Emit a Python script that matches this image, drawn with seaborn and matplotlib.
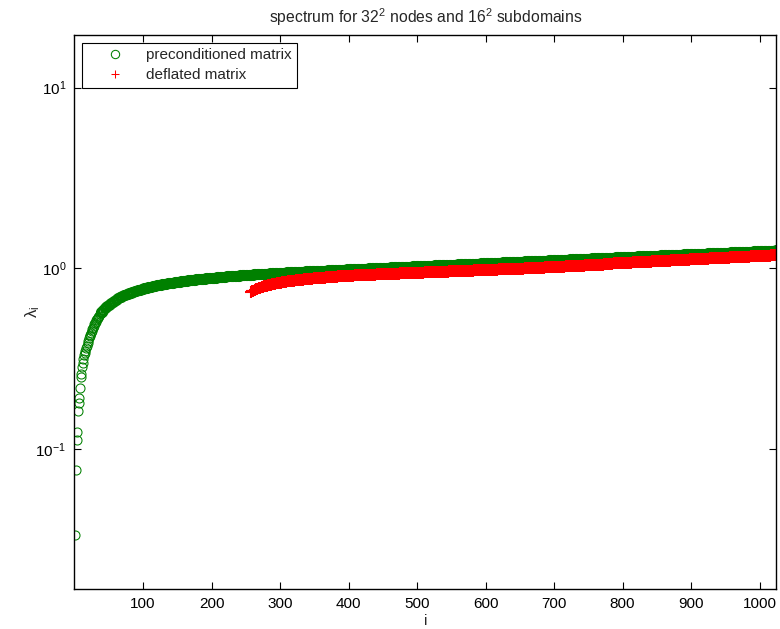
import matplotlib
matplotlib.use('Agg')
import matplotlib.pyplot as plt
import seaborn as sns
from matplotlib.ticker import NullLocator

# eigenvalues: first 40 one by one, then every 2nd index
pre_idx = list(range(1, 41)) + list(range(42, 1025, 2))
pre_vals = [
    0.0334, 0.0765, 0.112, 0.125, 0.162, 0.179, 0.191, 0.218, 0.251, 0.260,
    0.285, 0.298, 0.315, 0.330, 0.340, 0.350, 0.362, 0.372, 0.385, 0.398,
    0.410, 0.420, 0.430, 0.440, 0.450, 0.460, 0.470, 0.480, 0.490, 0.500,
    0.508, 0.516, 0.524, 0.532, 0.540, 0.548, 0.556, 0.563, 0.570, 0.577,
    # 42 .. 256
    0.589, 0.600, 0.610, 0.620, 0.629, 0.638, 0.646, 0.654, 0.662, 0.669,
    0.676, 0.683, 0.690, 0.696, 0.702, 0.708, 0.714, 0.719, 0.724, 0.729,
    0.734, 0.738, 0.743, 0.747, 0.751, 0.755, 0.759, 0.763, 0.767, 0.771,
    0.775, 0.778, 0.782, 0.785, 0.789, 0.792, 0.795, 0.798, 0.801, 0.804,
    0.807, 0.810, 0.813, 0.815, 0.818, 0.820, 0.823, 0.825, 0.828, 0.830,
    0.833, 0.835, 0.837, 0.839, 0.841, 0.843, 0.845, 0.847, 0.849, 0.851,
    0.853, 0.855, 0.857, 0.859, 0.861, 0.863, 0.865, 0.866, 0.868, 0.870,
    0.872, 0.873, 0.875, 0.876, 0.878, 0.879, 0.881, 0.882, 0.884, 0.885,
    0.887, 0.888, 0.890, 0.891, 0.893, 0.894, 0.896, 0.897, 0.899, 0.900,
    0.902, 0.903, 0.904, 0.905, 0.907, 0.908, 0.909, 0.910, 0.912, 0.913,
    0.914, 0.915, 0.917, 0.918, 0.919, 0.920, 0.921, 0.922,
    # 258 .. 400
    0.9230, 0.9240, 0.9250, 0.9260, 0.9270, 0.9280, 0.9290, 0.9300, 0.9310, 0.9320,
    0.9330, 0.9340, 0.9350, 0.9360, 0.9370, 0.9380, 0.9390, 0.9400, 0.9410, 0.9420,
    0.9430, 0.9440, 0.9450, 0.9460, 0.9470, 0.9480, 0.9490, 0.9500, 0.9505, 0.9510,
    0.9520, 0.9530, 0.9540, 0.9550, 0.9560, 0.9570, 0.9575, 0.9580, 0.9590, 0.9600,
    0.9610, 0.9620, 0.9625, 0.9630, 0.9640, 0.9650, 0.9660, 0.9670, 0.9675, 0.9680,
    0.9690, 0.9700, 0.9710, 0.9720, 0.9725, 0.9730, 0.9740, 0.9750, 0.9760, 0.9770,
    0.9775, 0.9780, 0.9790, 0.9800, 0.9810, 0.9820, 0.9825, 0.9830, 0.9840, 0.9850,
    0.9860, 0.9870,
    # 402 .. 500
    0.9878, 0.9886, 0.9894, 0.9902, 0.9910, 0.9918, 0.9926, 0.9934, 0.9942, 0.9950,
    0.9958, 0.9966, 0.9974, 0.9982, 0.9990, 0.9998, 1.0006, 1.0014, 1.0022, 1.0030,
    1.0038, 1.0046, 1.0054, 1.0062, 1.0070, 1.0078, 1.0086, 1.0094, 1.0102, 1.0110,
    1.0118, 1.0126, 1.0134, 1.0142, 1.0150, 1.0158, 1.0166, 1.0174, 1.0182, 1.0190,
    1.0198, 1.0206, 1.0214, 1.0222, 1.0230, 1.0238, 1.0246, 1.0254, 1.0262, 1.0270,
    # 502 .. 600
    1.0278, 1.0286, 1.0294, 1.0302, 1.0310, 1.0318, 1.0326, 1.0334, 1.0342, 1.0350,
    1.0358, 1.0366, 1.0374, 1.0382, 1.0390, 1.0398, 1.0406, 1.0414, 1.0422, 1.0430,
    1.0438, 1.0446, 1.0454, 1.0462, 1.0470, 1.0478, 1.0486, 1.0494, 1.0502, 1.0510,
    1.0518, 1.0526, 1.0534, 1.0542, 1.0550, 1.0558, 1.0566, 1.0574, 1.0582, 1.0590,
    1.0598, 1.0606, 1.0614, 1.0622, 1.0630, 1.0638, 1.0646, 1.0654, 1.0662, 1.0670,
    # 602 .. 700
    1.0678, 1.0687, 1.0695, 1.0704, 1.0712, 1.0721, 1.0729, 1.0738, 1.0746, 1.0755,
    1.0763, 1.0772, 1.0780, 1.0789, 1.0797, 1.0806, 1.0814, 1.0823, 1.0831, 1.0840,
    1.0848, 1.0857, 1.0865, 1.0874, 1.0882, 1.0891, 1.0899, 1.0908, 1.0916, 1.0925,
    1.0933, 1.0942, 1.0950, 1.0959, 1.0967, 1.0976, 1.0984, 1.0993, 1.1001, 1.1010,
    1.1018, 1.1027, 1.1035, 1.1044, 1.1052, 1.1061, 1.1069, 1.1078, 1.1086, 1.1095,
    # 702 .. 800
    1.1104, 1.1113, 1.1121, 1.1130, 1.1139, 1.1148, 1.1156, 1.1165, 1.1174, 1.1183,
    1.1191, 1.1200, 1.1209, 1.1218, 1.1226, 1.1235, 1.1244, 1.1253, 1.1261, 1.1270,
    1.1279, 1.1288, 1.1296, 1.1305, 1.1314, 1.1323, 1.1331, 1.1340, 1.1349, 1.1358,
    1.1366, 1.1375, 1.1384, 1.1393, 1.1401, 1.1410, 1.1419, 1.1428, 1.1436, 1.1445,
    1.1454, 1.1463, 1.1471, 1.1480, 1.1489, 1.1498, 1.1506, 1.1515, 1.1524, 1.1533,
    # 802 .. 900
    1.1542, 1.1551, 1.1560, 1.1569, 1.1578, 1.1587, 1.1596, 1.1605, 1.1614, 1.1623,
    1.1632, 1.1641, 1.1650, 1.1659, 1.1668, 1.1677, 1.1686, 1.1695, 1.1704, 1.1713,
    1.1722, 1.1731, 1.1740, 1.1749, 1.1758, 1.1767, 1.1776, 1.1785, 1.1794, 1.1803,
    1.1812, 1.1821, 1.1830, 1.1839, 1.1848, 1.1857, 1.1866, 1.1875, 1.1884, 1.1893,
    1.1902, 1.1911, 1.1920, 1.1929, 1.1938, 1.1947, 1.1956, 1.1965, 1.1974, 1.1983,
    # 902 .. 1000
    1.1992, 1.2001, 1.2010, 1.2019, 1.2028, 1.2037, 1.2046, 1.2055, 1.2064, 1.2073,
    1.2082, 1.2091, 1.2100, 1.2109, 1.2118, 1.2127, 1.2136, 1.2145, 1.2154, 1.2163,
    1.2172, 1.2181, 1.2190, 1.2199, 1.2208, 1.2217, 1.2226, 1.2235, 1.2244, 1.2253,
    1.2262, 1.2271, 1.2280, 1.2289, 1.2298, 1.2307, 1.2316, 1.2325, 1.2334, 1.2343,
    1.2352, 1.2361, 1.2370, 1.2379, 1.2388, 1.2397, 1.2406, 1.2415, 1.2424, 1.2433,
    # 1002 .. 1024
    1.2442, 1.2451, 1.2460, 1.2469, 1.2478, 1.2487, 1.2496, 1.2505, 1.2514, 1.2523,
    1.2540, 1.2600,
]

# deflated matrix: first 256 eigenvalues removed, every 2nd index
defl_idx = list(range(257, 1024, 2))
defl_vals = [
    # 257 .. 415
    0.742, 0.746, 0.752, 0.759, 0.765, 0.771, 0.776, 0.781, 0.786, 0.791,
    0.795, 0.799, 0.803, 0.807, 0.810, 0.814, 0.817, 0.820, 0.823, 0.826,
    0.829, 0.832, 0.834, 0.837, 0.839, 0.842, 0.844, 0.846, 0.848, 0.850,
    0.852, 0.854, 0.856, 0.858, 0.860, 0.862, 0.863, 0.865, 0.867, 0.869,
    0.870, 0.872, 0.873, 0.875, 0.876, 0.878, 0.879, 0.881, 0.882, 0.884,
    0.885, 0.886, 0.887, 0.889, 0.890, 0.891, 0.892, 0.894, 0.895, 0.896,
    0.897, 0.899, 0.900, 0.901, 0.902, 0.903, 0.904, 0.905, 0.906, 0.907,
    0.908, 0.909, 0.910, 0.911, 0.912, 0.913, 0.914, 0.915, 0.916, 0.9165,
    # 417 .. 665
    0.9170, 0.9177, 0.9184, 0.9190, 0.9197, 0.9204, 0.9211, 0.9218, 0.9224, 0.9231,
    0.9238, 0.9245, 0.9252, 0.9258, 0.9265, 0.9272, 0.9279, 0.9286, 0.9292, 0.9299,
    0.9306, 0.9313, 0.9320, 0.9326, 0.9333, 0.9340, 0.9347, 0.9354, 0.9360, 0.9367,
    0.9374, 0.9381, 0.9388, 0.9394, 0.9401, 0.9408, 0.9415, 0.9422, 0.9428, 0.9435,
    0.9442, 0.9449, 0.9456, 0.9462, 0.9469, 0.9476, 0.9483, 0.9490, 0.9496, 0.9503,
    0.9510, 0.9517, 0.9524, 0.9530, 0.9537, 0.9544, 0.9551, 0.9558, 0.9564, 0.9571,
    0.9578, 0.9585, 0.9592, 0.9598, 0.9605, 0.9612, 0.9619, 0.9626, 0.9632, 0.9639,
    0.9646, 0.9653, 0.9660, 0.9666, 0.9673, 0.9680, 0.9687, 0.9694, 0.9700, 0.9707,
    0.9714, 0.9721, 0.9728, 0.9734, 0.9741, 0.9748, 0.9755, 0.9762, 0.9768, 0.9775,
    0.9782, 0.9789, 0.9796, 0.9802, 0.9809, 0.9816, 0.9823, 0.9830, 0.9836, 0.9843,
    0.9850, 0.9857, 0.9864, 0.9870, 0.9877, 0.9884, 0.9891, 0.9898, 0.9904, 0.9911,
    0.9918, 0.9925, 0.9932, 0.9938, 0.9945, 0.9952, 0.9959, 0.9966, 0.9972, 0.9979,
    0.9986, 0.9993, 1.0000, 1.0006, 1.0013,
    # 667 .. 775
    1.0022, 1.0031, 1.0040, 1.0049, 1.0058, 1.0067, 1.0076, 1.0085, 1.0094, 1.0103,
    1.0112, 1.0121, 1.0130, 1.0139, 1.0148, 1.0157, 1.0166, 1.0175, 1.0184, 1.0193,
    1.0202, 1.0211, 1.0220, 1.0229, 1.0238, 1.0247, 1.0256, 1.0265, 1.0274, 1.0283,
    1.0292, 1.0301, 1.0310, 1.0319, 1.0328, 1.0337, 1.0346, 1.0355, 1.0364, 1.0373,
    1.0382, 1.0391, 1.0400, 1.0409, 1.0418, 1.0427, 1.0436, 1.0445, 1.0454, 1.0463,
    1.0472, 1.0481, 1.0490, 1.0510, 1.0540,
    # 777 .. 1023
    1.0560, 1.0580, 1.0600, 1.0615, 1.0630, 1.0640, 1.0650, 1.0660, 1.0670, 1.0680,
    1.0690, 1.0700, 1.0710, 1.0720, 1.0730, 1.0740, 1.0750, 1.0760, 1.0770, 1.0780,
    1.0790, 1.0800, 1.0810, 1.0820, 1.0830, 1.0840, 1.0850, 1.0860, 1.0870, 1.0880,
    1.0890, 1.0900, 1.0910, 1.0920, 1.0930, 1.0940, 1.0950, 1.0960, 1.0970, 1.0980,
    1.0990, 1.1000, 1.1010, 1.1020, 1.1030, 1.1040, 1.1050, 1.1060, 1.1070, 1.1080,
    1.1090, 1.1100, 1.1110, 1.1120, 1.1130, 1.1140, 1.1150, 1.1160, 1.1170, 1.1180,
    1.1190, 1.1200, 1.1210, 1.1220, 1.1230, 1.1240, 1.1250, 1.1260, 1.1270, 1.1280,
    1.1290, 1.1300, 1.1310, 1.1320, 1.1330, 1.1340, 1.1350, 1.1360, 1.1370, 1.1380,
    1.1390, 1.1400, 1.1410, 1.1420, 1.1430, 1.1440, 1.1450, 1.1460, 1.1470, 1.1480,
    1.1490, 1.1500, 1.1510, 1.1520, 1.1530, 1.1540, 1.1550, 1.1560, 1.1570, 1.1580,
    1.1590, 1.1600, 1.1610, 1.1620, 1.1630, 1.1640, 1.1650, 1.1660, 1.1670, 1.1680,
    1.1690, 1.1700, 1.1710, 1.1720, 1.1730, 1.1740, 1.1750, 1.1760, 1.1770, 1.1780,
    1.1790, 1.1800, 1.1810, 1.1820,
]

GREEN = '#008000'
RED = '#ff0000'
n_sparse = 40  # points that are still drawn as separate circles

sns.set_style('ticks')
plt.rcParams['font.family'] = ['Liberation Sans', 'DejaVu Sans']
plt.rcParams['mathtext.fontset'] = 'custom'
plt.rcParams['mathtext.rm'] = 'Liberation Sans'
plt.rcParams['mathtext.it'] = 'Liberation Sans:italic'
plt.rcParams['mathtext.default'] = 'regular'
plt.rcParams['font.size'] = 11

fig = plt.figure(figsize=(7.8, 6.29), dpi=100)
ax = fig.add_axes([0.0955, 0.0636, 0.8994, 0.8803])

# dense part of the spectrum: thicker edges so the overlap reads as a solid band
sns.lineplot(x=pre_idx[n_sparse - 2:], y=pre_vals[n_sparse - 2:], ax=ax,
             estimator=None, errorbar=None, linestyle='', marker='o',
             markersize=6.5, mfc='none', mec=GREEN, mew=1.5, color=GREEN)
sns.lineplot(x=pre_idx[:n_sparse], y=pre_vals[:n_sparse], ax=ax,
             estimator=None, errorbar=None, linestyle='', marker='o',
             markersize=6.5, mfc='none', mec=GREEN, mew=0.75, color=GREEN,
             label='preconditioned matrix')
sns.lineplot(x=defl_idx, y=defl_vals, ax=ax, estimator=None, errorbar=None,
             linestyle='', marker='+', markersize=8, mec=RED, mew=1.5,
             color=RED, label='deflated matrix')

ax.set_yscale('log')
ax.set_xlim(0, 1024)
ax.set_ylim(0.0168, 19.5)
ax.set_xticks(range(100, 1001, 100))
ax.set_yticks([0.1, 1, 10])
ax.yaxis.set_minor_locator(NullLocator())
ax.xaxis.set_minor_locator(NullLocator())
ax.tick_params(direction='in', top=True, right=True, length=5, width=0.8,
               pad=6, colors='black', labelsize=11)
for s in ax.spines.values():
    s.set_color('black')
    s.set_linewidth(1.0)

ax.set_xlabel('i', fontsize=11)
ax.xaxis.set_label_coords(0.5, -0.045)
ax.set_ylabel(r'$\lambda_i$', fontsize=12)
ax.yaxis.set_label_coords(-0.046, 0.5)
ax.set_title(r'spectrum for $32^2$ nodes and $16^2$ subdomains', fontsize=11.3, pad=9)

leg = ax.legend(loc='upper left', fancybox=False, framealpha=1, edgecolor='black',
                handlelength=3.6, handletextpad=0.2, labelspacing=0.4,
                borderaxespad=0.5, borderpad=0.35, fontsize=11)
leg.get_frame().set_linewidth(0.8)
for h in leg.legend_handles:
    h.set_markeredgewidth(0.75)
    h.set_markersize(6)

fig.savefig('out.png', dpi=100)
